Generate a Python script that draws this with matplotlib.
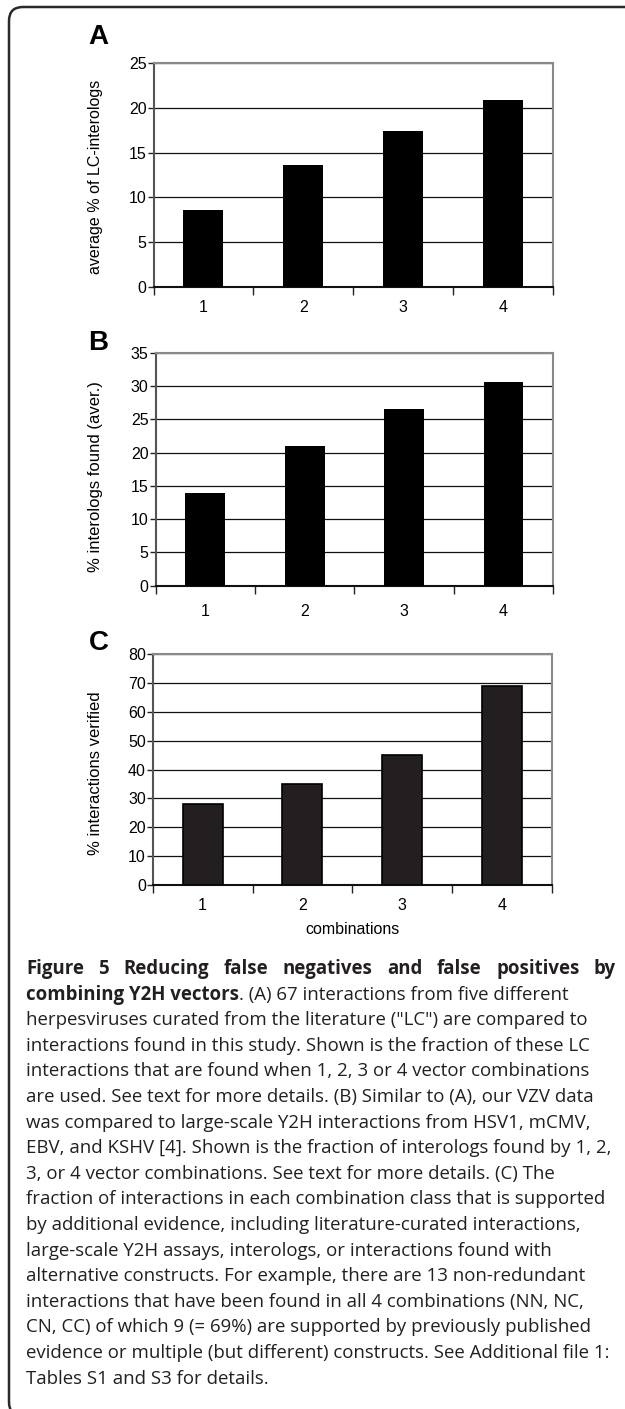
import numpy as np
import matplotlib
matplotlib.use('Agg')
import matplotlib.pyplot as plt
from matplotlib.patches import FancyBboxPatch

W, H = 625, 1409
DPI = 100

categories = ['1', '2', '3', '4']
values_a = [8.6, 13.6, 17.4, 20.9]
values_b = [14.0, 21.0, 26.5, 30.6]
values_c = [28, 35, 45, 69]
yticks_a = [0, 5, 10, 15, 20, 25]
yticks_b = [0, 5, 10, 15, 20, 25, 30, 35]
yticks_c = [0, 10, 20, 30, 40, 50, 60, 70, 80]
ylabel_a = 'average % of LC-interologs'
ylabel_b = '% interologs found (aver.)'
ylabel_c = '% interactions verified'
xlabel_c = 'combinations'
panel_letters = ['A', 'B', 'C']

caption_title = 'Figure 5 Reducing false negatives and false positives by'
caption_bold2 = 'combining Y2H vectors'
caption_rest2 = '. (A) 67 interactions from five different'
caption_lines = [
    'herpesviruses curated from the literature ("LC") are compared to',
    'interactions found in this study. Shown is the fraction of these LC',
    'interactions that are found when 1, 2, 3 or 4 vector combinations',
    'are used. See text for more details. (B) Similar to (A), our VZV data',
    'was compared to large-scale Y2H interactions from HSV1, mCMV,',
    'EBV, and KSHV [4]. Shown is the fraction of interologs found by 1, 2,',
    '3, or 4 vector combinations. See text for more details. (C) The',
    'fraction of interactions in each combination class that is supported',
    'by additional evidence, including literature-curated interactions,',
    'large-scale Y2H assays, interologs, or interactions found with',
    'alternative constructs. For example, there are 13 non-redundant',
    'interactions that have been found in all 4 combinations (NN, NC,',
    'CN, CC) of which 9 (= 69%) are supported by previously published',
    'evidence or multiple (but different) constructs. See Additional file 1:',
    'Tables S1 and S3 for details.',
]

plt.rcParams['font.family'] = ['Liberation Sans', 'DejaVu Sans']

fig = plt.figure(figsize=(W / DPI, H / DPI), dpi=DPI)


def px_axes(x0, x1, y0, y1):
    return fig.add_axes([x0 / W, 1 - y1 / H, (x1 - x0) / W, (y1 - y0) / H])


def fx(x):
    return x / W


def fy(y):
    return 1 - y / H


def panel(ax, vals, yticks, bar_color, edge, lw, xpad):
    x = np.arange(1, len(categories) + 1)
    ax.bar(x, vals, width=0.4, color=bar_color, edgecolor=edge, linewidth=lw, zorder=3)
    ax.set_xlim(0.5, len(categories) + 0.5)
    ax.set_ylim(yticks[0], yticks[-1])
    ax.set_yticks(yticks)
    ax.set_yticklabels([str(t) for t in yticks])
    ax.set_xticks(x)
    ax.set_xticklabels(categories)
    ax.set_xticks(np.arange(0.5, len(categories) + 0.6, 1), minor=True)
    ax.tick_params(axis='x', which='major', length=0, pad=xpad, labelsize=11.5)
    ax.tick_params(axis='x', which='minor', length=6, width=1.0, color='#222222', direction='out')
    ax.tick_params(axis='y', length=4, width=1.0, color='#222222', pad=1.0, labelsize=11.5)
    ax.yaxis.grid(True, color='#111111', lw=0.9)
    ax.set_axisbelow(True)
    ax.spines['top'].set_color('#8a8a8a')
    ax.spines['right'].set_color('#8a8a8a')
    ax.spines['left'].set_color('#555555')
    ax.spines['bottom'].set_color('#111111')
    for s in ax.spines.values():
        s.set_linewidth(1.5)


axA = px_axes(153.5, 553.3, 63, 287)
panel(axA, values_a, yticks_a, '#000000', '#000000', 0, 9.5)
axB = px_axes(155.5, 553.3, 352.7, 585.7)
panel(axB, values_b, yticks_b, '#000000', '#000000', 0, 13.5)
axC = px_axes(152.7, 552, 654, 885)
panel(axC, values_c, yticks_c, '#231f20', '#000000', 1.2, 9)

fig.text(fx(96), fy(177), ylabel_a, rotation=90, ha='center', va='center', fontsize=11.5)
fig.text(fx(96), fy(477), ylabel_b, rotation=90, ha='center', va='center', fontsize=12)
fig.text(fx(96), fy(773), ylabel_c, rotation=90, ha='center', va='center', fontsize=12)
fig.text(fx(352), fy(930), xlabel_c, ha='center', va='center', fontsize=11.5)

for letter, yc in zip(panel_letters, [37, 343, 643]):
    fig.text(fx(98.5), fy(yc), letter, ha='center', va='center', fontsize=20, fontweight='bold')

# frame (top-left rounded; extends past right edge, bottom corner just visible)
frame = FancyBboxPatch((0.09, (H - 1416) / DPI), 7.0, (1416 - 7) / DPI,
                       boxstyle='round,pad=0,rounding_size=0.14',
                       transform=fig.dpi_scale_trans, fill=False,
                       edgecolor='#2a2a2a', linewidth=1.8)
fig.patches.append(frame)

# caption
cap_font = 'Open Sans'
cap_size = 13.4
cap_color = '#231f20'
x_left, x_right = 26, 616
base0 = 974
step = 25.6

renderer = fig.canvas.get_renderer()
words = caption_title.split(' ')
texts = []
for w_ in words:
    t = fig.text(0, fy(base0), w_, fontfamily=cap_font, fontsize=cap_size,
                 fontweight='bold', color=cap_color, va='baseline')
    texts.append(t)
widths = [t.get_window_extent(renderer).width for t in texts]
gap = (x_right - x_left - sum(widths)) / (len(words) - 1)
xpos = x_left
for t, wd in zip(texts, widths):
    t.set_x(fx(xpos))
    xpos += wd + gap

t2 = fig.text(fx(x_left), fy(base0 + step), caption_bold2, fontfamily=cap_font,
              fontsize=cap_size, fontweight='bold', color=cap_color, va='baseline')
bb = t2.get_window_extent(renderer)
fig.text(bb.x1 / W, fy(base0 + step), caption_rest2, fontfamily=cap_font,
         fontsize=cap_size, color=cap_color, va='baseline')

for i, line in enumerate(caption_lines):
    fig.text(fx(x_left), fy(base0 + step * (i + 2)), line, fontfamily=cap_font,
             fontsize=cap_size, color=cap_color, va='baseline')

fig.savefig('out.png', dpi=DPI, facecolor='white')
